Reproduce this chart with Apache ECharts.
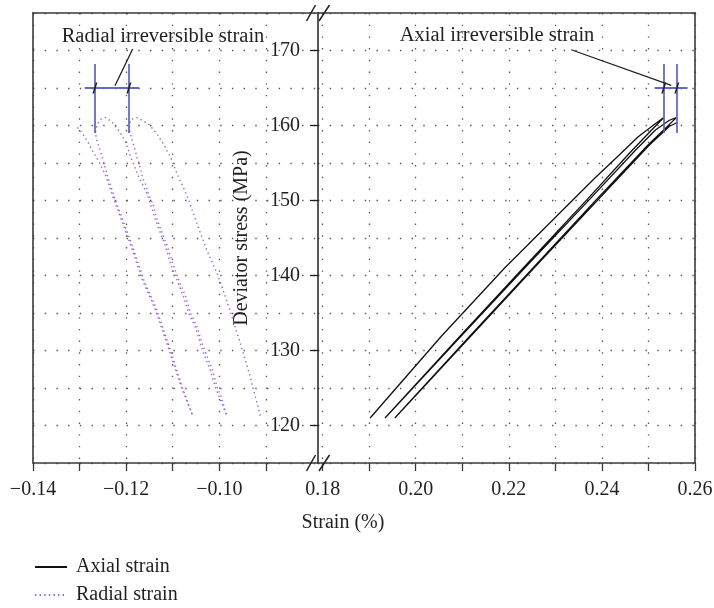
<!DOCTYPE html>
<html>
<head>
<meta charset="utf-8">
<script src="https://cdn.jsdelivr.net/npm/echarts@6/dist/echarts.min.js"></script>
<style>
  html, body { margin: 0; background: #fff; }
  #chart { width: 714px; height: 608px; }
</style>
</head>
<body>
<div id="chart"></div>
<script>
// [strain %, deviator stress MPa], in loading order
const axialStrain = [
  [0.1902, 121.0], [0.2055, 131.9], [0.2191, 141.0], [0.2338, 150.1], [0.2385, 153.0],
  [0.2436, 156.0], [0.2478, 158.5], [0.2516, 160.3], [0.2533, 161.05],
  [0.2513, 159.8], [0.2459, 156.3], [0.2367, 150.05], [0.2231, 141.0], [0.2095, 131.9], [0.1934, 121.0],
  [0.2097, 131.9], [0.2234, 141.0], [0.2372, 150.05], [0.2472, 156.7], [0.2515, 159.4],
  [0.2545, 160.7], [0.2560, 161.05],
  [0.2499, 157.4], [0.2387, 150.05], [0.2252, 141.0], [0.2116, 131.9], [0.1955, 121.0],
  [0.2118, 131.9], [0.2254, 141.0], [0.2391, 150.05], [0.2502, 157.4], [0.2545, 159.9], [0.2562, 160.4]
];
const radialStrain = [
  // cycle 1 loading
  [-0.0912, 121.3], [-0.0934, 126.6], [-0.0955, 131.0], [-0.0980, 135.9], [-0.1002, 139.9],
  [-0.1027, 143.4], [-0.1056, 148.3], [-0.1066, 150.1], [-0.1076, 151.6], [-0.1083, 152.5],
  [-0.1088, 153.2], [-0.1094, 154.1], [-0.1104, 155.7], [-0.1112, 156.6], [-0.1118, 157.4],
  [-0.1125, 158.0], [-0.1133, 158.8], [-0.1142, 159.5], [-0.1152, 160.2], [-0.1165, 160.7],
  [-0.1177, 161.05],
  // cycle 1 unloading
  [-0.1190, 160.8], [-0.1193, 160.0], [-0.1192, 159.1], [-0.1188, 158.3], [-0.1184, 157.4],
  [-0.1180, 156.5], [-0.1177, 155.8], [-0.1172, 154.9], [-0.1168, 154.0], [-0.1164, 152.9],
  [-0.1158, 152.1], [-0.1153, 151.1], [-0.1148, 150.3], [-0.1142, 149.4], [-0.1133, 147.4],
  [-0.1122, 145.6], [-0.1111, 143.8], [-0.1100, 141.6], [-0.1087, 139.4], [-0.1072, 137.2],
  [-0.1062, 135.0], [-0.1048, 133.2], [-0.1037, 131.0], [-0.1026, 129.2], [-0.1015, 127.5],
  [-0.1005, 125.2], [-0.0994, 123.5], [-0.0984, 121.3],
  // cycle 2 loading
  [-0.0998, 123.5], [-0.1009, 125.2], [-0.1020, 127.5], [-0.1031, 129.2], [-0.1041, 131.0],
  [-0.1052, 133.2], [-0.1066, 135.0], [-0.1077, 137.2], [-0.1091, 139.4], [-0.1105, 141.6],
  [-0.1115, 143.8], [-0.1126, 145.6], [-0.1137, 147.4], [-0.1147, 149.4], [-0.1156, 151.0],
  [-0.1165, 152.2], [-0.1175, 153.4], [-0.1182, 154.6], [-0.1189, 155.6], [-0.1195, 156.7],
  [-0.1200, 157.6], [-0.1206, 158.3], [-0.1213, 159.1], [-0.1222, 159.8], [-0.1231, 160.5],
  [-0.1244, 161.05],
  // cycle 2 unloading
  [-0.1256, 160.8], [-0.1263, 160.0], [-0.1266, 159.1], [-0.1263, 158.0], [-0.1256, 156.7],
  [-0.1248, 155.0], [-0.1237, 152.7], [-0.1223, 150.05], [-0.1191, 144.7], [-0.1162, 139.4],
  [-0.1134, 135.4], [-0.1105, 130.1], [-0.1080, 125.2], [-0.1057, 121.3],
  // cycle 3 loading
  [-0.1082, 125.2], [-0.1108, 130.1], [-0.1137, 135.4], [-0.1165, 139.4], [-0.1194, 144.7],
  [-0.1226, 150.05], [-0.1243, 153.2], [-0.1256, 154.9], [-0.1271, 156.5], [-0.1283, 157.9],
  [-0.1299, 159.4], [-0.1310, 160.0]
];

const stressTicks = [120, 130, 140, 150, 160, 170];
const leftStrainTicks = [-0.14, -0.13, -0.12, -0.11, -0.10, -0.09];
const leftStrainLabels = [-0.14, -0.12, -0.10];
const rightStrainTicks = [0.18, 0.19, 0.20, 0.21, 0.22, 0.23, 0.24, 0.25, 0.26];
const rightStrainLabels = [0.18, 0.20, 0.22, 0.24, 0.26];

// irreversible strain markers
const markStress = 165;
const markStressRange = [159.0, 168.2];
const radialMarkX = [-0.1267, -0.1194];
const radialMarkSpan = [-0.1289, -0.1172];
const axialMarkX = [0.2533, 0.2561];
const axialMarkSpan = [0.2513, 0.2584];
const radialLeader = [[-0.1186, 170.2], [-0.1224, 165.3]];
const axialLeader = [[0.2334, 170.1], [0.2549, 165.35]];

const serif = "'Liberation Serif', 'DejaVu Serif', serif";
const ink = '#231f20';
const purple = '#9a66dc';
const blue = '#5c62c2';
const frame = { show: true, lineStyle: { color: '#3a3a3a', width: 1.6 } };
const dots = { show: true, lineStyle: { color: '#555', width: 1.3, type: [1.4, 10.3] } };
const tickStyle = { color: '#3a3a3a', width: 1.3 };
const labelFont = { fontFamily: serif, fontSize: 20, color: ink };

function strainLabel(v) {
  return (v < 0 ? '\u2212' : '') + Math.abs(v).toFixed(2);
}

function markerSegments(xs, span) {
  const segs = xs.map(x => ({ coords: [[x, markStressRange[0]], [x, markStressRange[1]]] }));
  segs.push({ coords: [[span[0], markStress], [span[1], markStress]] });
  return segs;
}

const chart = echarts.init(document.getElementById('chart'));

const option = {
  animation: false,
  backgroundColor: '#fff',
  grid: [
    { left: 33, right: 396, top: 13, bottom: 145, outerBoundsMode: 'none' },
    { left: 318, right: 19, top: 13, bottom: 145, outerBoundsMode: 'none' }
  ],
  legend: {
    orient: 'vertical', left: 34, top: 557, padding: 0,
    itemWidth: 32, itemHeight: 14, itemGap: 8,
    selectedMode: false,
    itemStyle: { opacity: 0 },
    data: ['Axial strain', 'Radial strain'],
    textStyle: { fontFamily: serif, fontSize: 20, color: ink, lineHeight: 20, padding: [0, 0, 0, 4] }
  },
  xAxis: [
    {
      gridIndex: 0, type: 'value', min: -0.14, max: -0.0788, position: 'bottom',
      axisLine: frame,
      axisTick: { customValues: leftStrainTicks, length: 8, lineStyle: tickStyle },
      axisLabel: Object.assign({ customValues: leftStrainLabels, formatter: strainLabel, margin: 17 }, labelFont),
      splitLine: dots
    },
    {
      gridIndex: 0, type: 'value', min: -0.14, max: -0.0788, position: 'top',
      axisLine: frame, axisTick: { show: false }, axisLabel: { show: false }, splitLine: { show: false }
    },
    {
      gridIndex: 1, type: 'value', min: 0.179, max: 0.26, position: 'bottom',
      axisLine: frame,
      axisTick: { customValues: rightStrainTicks, length: 8, lineStyle: tickStyle },
      axisLabel: Object.assign({ customValues: rightStrainLabels, formatter: strainLabel, margin: 17 }, labelFont),
      splitLine: dots
    },
    {
      gridIndex: 1, type: 'value', min: 0.179, max: 0.26, position: 'top',
      axisLine: frame, axisTick: { show: false }, axisLabel: { show: false }, splitLine: { show: false }
    }
  ],
  yAxis: [
    {
      gridIndex: 0, type: 'value', min: 115, max: 175, interval: 5, position: 'left',
      axisLine: frame, axisTick: { show: false }, axisLabel: { show: false }, splitLine: dots
    },
    {
      gridIndex: 1, type: 'value', min: 115, max: 175, position: 'left',
      axisLine: { show: true, lineStyle: { color: ink, width: 1.5 } },
      axisTick: { customValues: stressTicks, length: 8, lineStyle: { color: ink, width: 1.3 } },
      axisLabel: Object.assign({ customValues: stressTicks, margin: 18 }, labelFont),
      splitLine: { show: false },
      name: 'Deviator stress (MPa)', nameLocation: 'middle', nameGap: 66,
      nameTextStyle: labelFont
    },
    {
      gridIndex: 1, type: 'value', min: 115, max: 175, interval: 5, position: 'right',
      axisLine: frame, axisTick: { show: false }, axisLabel: { show: false }, splitLine: dots
    }
  ],
  series: [
    {
      name: 'Axial strain', type: 'line', xAxisIndex: 2, yAxisIndex: 1,
      data: axialStrain, symbol: 'none', z: 4,
      lineStyle: { color: '#111', width: 1.3 }, itemStyle: { color: '#111' }
    },
    {
      name: 'Radial strain', type: 'line', xAxisIndex: 0, yAxisIndex: 0,
      data: radialStrain, symbol: 'none', z: 4,
      lineStyle: { color: purple, width: 1.4, type: [1.4, 3.2] }, itemStyle: { color: purple }
    },
    {
      type: 'lines', coordinateSystem: 'cartesian2d', xAxisIndex: 0, yAxisIndex: 0, silent: true, z: 5,
      data: markerSegments(radialMarkX, radialMarkSpan),
      lineStyle: { color: blue, width: 1.8, opacity: 0.95 }
    },
    {
      type: 'lines', coordinateSystem: 'cartesian2d', xAxisIndex: 2, yAxisIndex: 1, silent: true, z: 5,
      data: markerSegments(axialMarkX, axialMarkSpan),
      lineStyle: { color: blue, width: 1.8, opacity: 0.95 }
    },
    {
      type: 'lines', coordinateSystem: 'cartesian2d', xAxisIndex: 0, yAxisIndex: 0, silent: true, z: 6,
      data: [{ coords: radialLeader }],
      lineStyle: { color: ink, width: 1.3, opacity: 1 }
    },
    {
      type: 'lines', coordinateSystem: 'cartesian2d', xAxisIndex: 2, yAxisIndex: 1, silent: true, z: 6,
      data: [{ coords: axialLeader }],
      lineStyle: { color: ink, width: 1.3, opacity: 1 }
    },
    {
      type: 'scatter', xAxisIndex: 0, yAxisIndex: 0, silent: true, z: 7,
      data: radialMarkX.map(x => [x, markStress]),
      symbol: 'path://M0,11L1.6,11L5,0L3.4,0Z', symbolSize: [5, 11],
      itemStyle: { color: ink, opacity: 1 }
    },
    {
      type: 'scatter', xAxisIndex: 2, yAxisIndex: 1, silent: true, z: 7,
      data: axialMarkX.map(x => [x, markStress]),
      symbol: 'path://M0,11L1.6,11L5,0L3.4,0Z', symbolSize: [5, 11],
      itemStyle: { color: ink, opacity: 1 }
    }
  ]
};

chart.setOption(option);

// axis-break marks and free text
const bottomLeft = chart.convertToPixel({ gridIndex: 1 }, [0.179, 115]);
const topLeft = chart.convertToPixel({ gridIndex: 1 }, [0.179, 175]);
const bx = bottomLeft[0];
const breaks = [];
[topLeft[1], bottomLeft[1]].forEach(yy => {
  breaks.push({ type: 'line', z: 20, shape: { x1: bx - 11.5, y1: yy + 8, x2: bx - 2.5, y2: yy - 8 },
    style: { stroke: ink, lineWidth: 1.5 } });
  breaks.push({ type: 'line', z: 20, shape: { x1: bx + 1, y1: yy + 8, x2: bx + 11.5, y2: yy - 8 },
    style: { stroke: ink, lineWidth: 1.5 } });
});
function label(text, x, y, size) {
  return { type: 'text', x: x, y: y, z: 20,
    style: { text: text, fontFamily: serif, fontSize: size, fill: ink, align: 'center', verticalAlign: 'middle' } };
}
chart.setOption({
  graphic: breaks.concat([
    label('Radial irreversible strain', 163, 36.5, 20.5),
    label('Axial irreversible strain', 497, 36, 20.5),
    label('Strain (%)', 343, 523, 20)
  ])
});
</script>
</body>
</html>
